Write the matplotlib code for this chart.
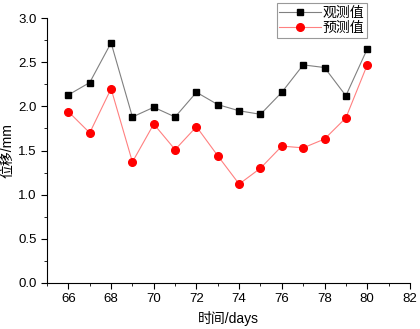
import matplotlib
matplotlib.use('Agg')
import matplotlib.pyplot as plt
from matplotlib.ticker import MultipleLocator

plt.rcParams['font.family'] = ['Liberation Sans', 'Noto Sans CJK SC']

days = [66, 67, 68, 69, 70, 71, 72, 73, 74, 75, 76, 77, 78, 79, 80]
observed = [2.13, 2.27, 2.72, 1.88, 1.99, 1.88, 2.16, 2.02, 1.95, 1.91, 2.16, 2.47, 2.44, 2.12, 2.65]
predicted = [1.94, 1.70, 2.20, 1.37, 1.80, 1.51, 1.77, 1.44, 1.12, 1.30, 1.55, 1.53, 1.63, 1.87, 2.47]

fig = plt.figure(figsize=(4.2, 3.29), dpi=100)
ax = fig.add_axes([0.112, 0.140, 0.864, 0.805])

ax.plot(days, observed, color='#808080', lw=0.8, marker='s', ms=5,
        mfc='black', mec='black', label='观测值')
ax.plot(days, predicted, color='#ff8080', lw=0.8, marker='o', ms=5.5,
        mfc='red', mec='red', label='预测值')

ax.set_xlim(65, 82)
ax.set_ylim(0, 3.0)
ax.xaxis.set_major_locator(MultipleLocator(2))
ax.xaxis.set_minor_locator(MultipleLocator(1))
ax.yaxis.set_major_locator(MultipleLocator(0.5))
ax.yaxis.set_minor_locator(MultipleLocator(0.25))
ax.yaxis.set_major_formatter(plt.FormatStrFormatter('%.1f'))
ax.spines['top'].set_visible(False)
ax.spines['right'].set_visible(False)
ax.tick_params(which='major', direction='out', length=4, labelsize=9.5)
ax.tick_params(which='minor', direction='out', length=2.5)

ax.set_xlabel('时间/days', fontsize=10)
ax.set_ylabel('位移/mm', fontsize=10)
ax.yaxis.set_label_coords(-0.09, 0.5)

leg = fig.legend(loc='upper left', bbox_to_anchor=(0.652, 1.0), fontsize=10,
                 frameon=True, fancybox=False, edgecolor='#808080',
                 handlelength=3.0, borderpad=0.2, labelspacing=0.1,
                 handletextpad=0.1, borderaxespad=0.2)
leg.get_frame().set_linewidth(0.8)

fig.savefig('out.png', dpi=100)
